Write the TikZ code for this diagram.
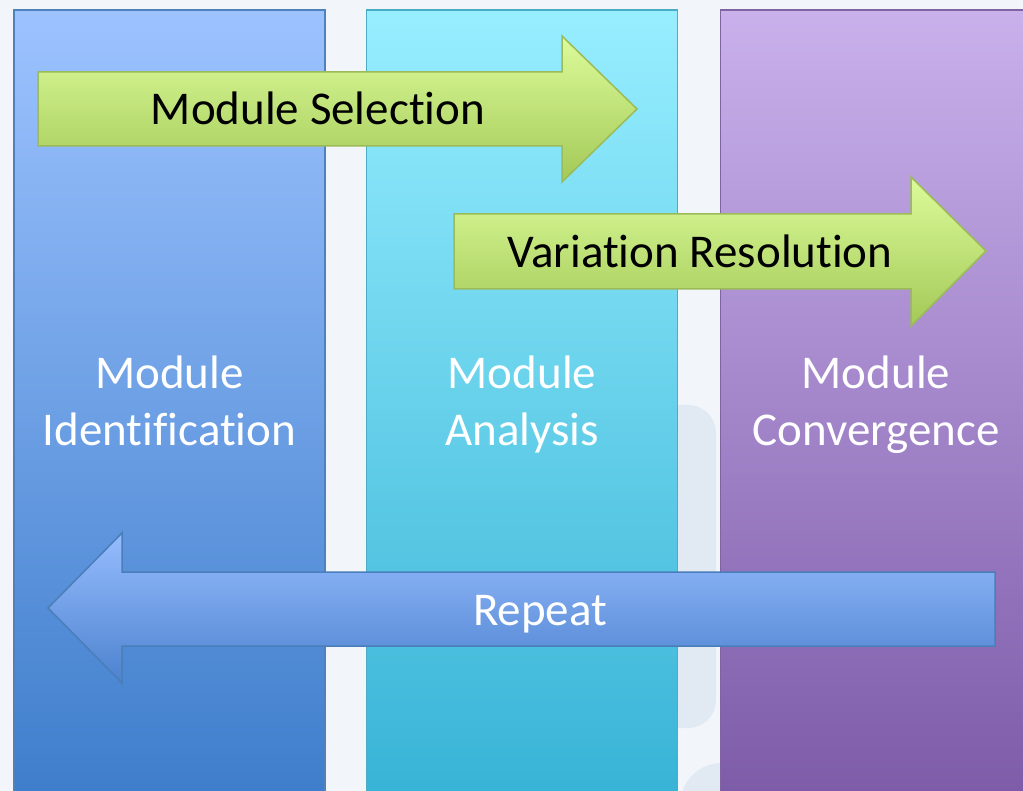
\documentclass[tikz,border=0pt]{standalone}
\usepackage{fontspec}
\setmainfont{Carlito}[RawFeature={-liga;-clig;-calt;-dlig}]
\definecolor{paper}{HTML}{F2F6FA}
\definecolor{ghost}{HTML}{E1E9F2}
\definecolor{idtop}{HTML}{9DC3FF}
\definecolor{idbot}{HTML}{3E7DCB}
\definecolor{idline}{HTML}{4F81BD}
\definecolor{antop}{HTML}{97EEFF}
\definecolor{anbot}{HTML}{37B3D6}
\definecolor{anline}{HTML}{4BACC6}
\definecolor{cvtop}{HTML}{C9B1EC}
\definecolor{cvbot}{HTML}{7D5BA8}
\definecolor{cvline}{HTML}{8064A2}
\definecolor{gntop}{HTML}{DCFB9A}
\definecolor{gnbot}{HTML}{A3C957}
\definecolor{gnline}{HTML}{9BBB59}
\definecolor{rptop}{HTML}{97BDFF}
\definecolor{rpbot}{HTML}{4C82CE}
\definecolor{rpline}{HTML}{4A7EBB}
\tikzset{
  bigtext/.style={font=\fontsize{47}{57}\selectfont},
  column/.style={draw, line width=1.5pt, minimum width=311pt, minimum height=790pt,
    inner sep=0pt, align=center, text=white, bigtext},
  greenarrow/.style={draw=gnline, line width=1.5pt, top color=gntop, bottom color=gnbot},
  bluearrow/.style={draw=rpline, line width=1.5pt, top color=rptop, bottom color=rpbot},
  arrowtext/.style={anchor=base, inner sep=0pt, bigtext}
}
\begin{document}
\begin{tikzpicture}[x=1pt,y=-1pt]
  \fill[paper] (0,0) rectangle (1023,791);
  \useasboundingbox (0,0) rectangle (1023,791);
  \fill[ghost, rounded corners=28pt] (632,405) rectangle (716,728);
  \fill[ghost] (722,805) circle (42);

  \node (Id) at (169.5,405) [column, draw=idline, top color=idtop, bottom color=idbot] {Module\\Identification\vphantom{g}};
  \node (An) at (522,405)   [column, draw=anline, top color=antop, bottom color=anbot] {Module\\Analysis\vphantom{g}};
  \node (Cv) at (876,405)   [column, draw=cvline, top color=cvtop, bottom color=cvbot] {Module\\Convergence};

  \path[greenarrow] (38,72) -- (562,72) -- (562,36) -- (637,109) -- (562,182) -- (562,146) -- (38,146) -- cycle;
  \node (Se) at (318,125) [arrowtext] {Module Selection};

  \path[greenarrow] (454,214) -- (911,214) -- (911,177) -- (986,251) -- (911,326) -- (911,289) -- (454,289) -- cycle;
  \node (Va) at (700,268) [arrowtext] {Variation Resolution};

  \path[bluearrow] (995,572) -- (122,572) -- (122,533) -- (48,608) -- (122,683) -- (122,646) -- (995,646) -- cycle;
  \node (Re) at (540,625) [arrowtext, text=white] {Repeat};
\end{tikzpicture}
\end{document}
